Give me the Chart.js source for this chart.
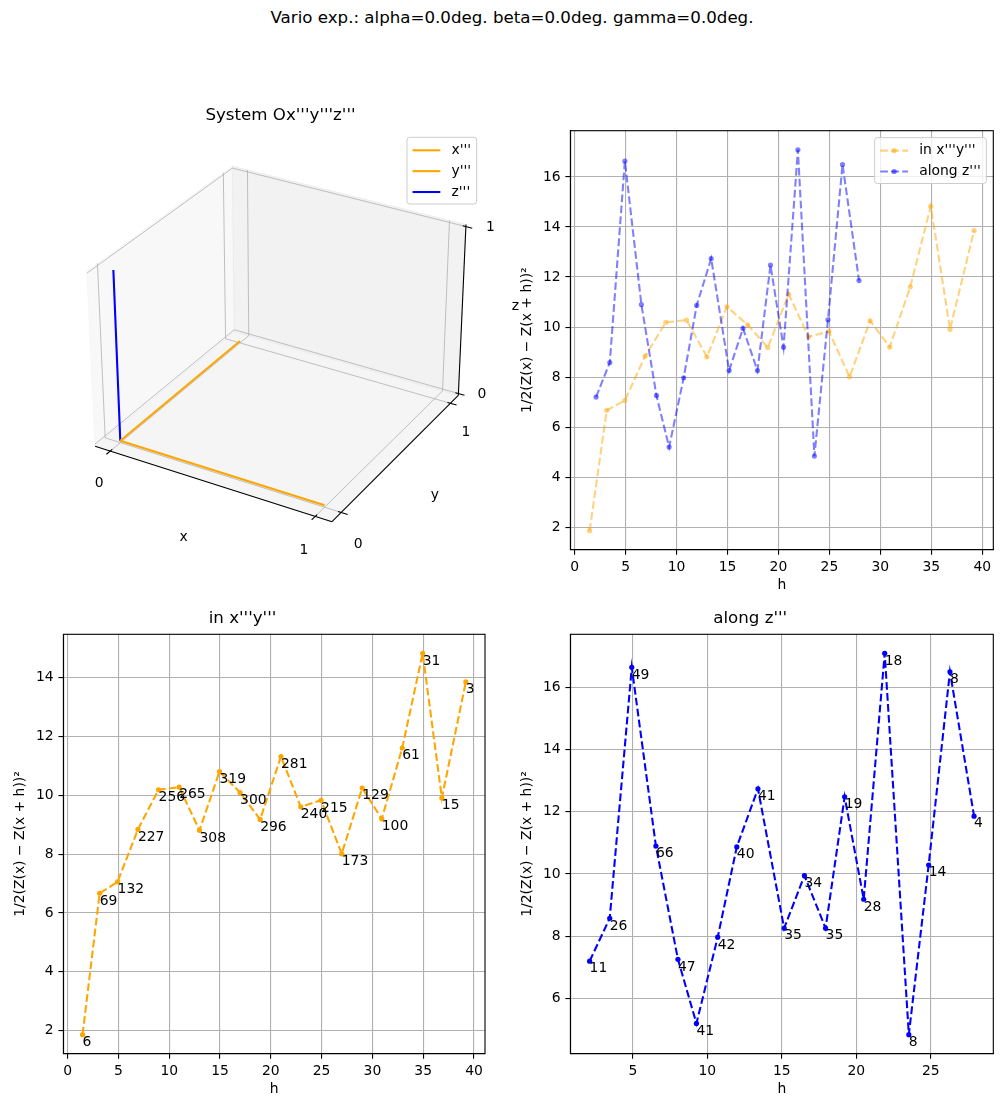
<!DOCTYPE html>
<html>
<head>
<meta charset="utf-8">
<script src="https://cdn.jsdelivr.net/npm/chart.js@4.4.0/dist/chart.umd.min.js"></script>
<style>
html, body { margin: 0; padding: 0; background: #fff; }
#fig { position: relative; width: 1002px; height: 1107px; overflow: hidden; font-family: "DejaVu Sans", sans-serif; }
#fig canvas { position: absolute; }
#sup { position: absolute; left: 0; top: 8px; width: 1024px; text-align: center; font-size: 16.67px; line-height: 20px; color: #000; }
</style>
</head>
<body>
<div id="fig">
  <div id="sup">Vario exp.: alpha=0.0deg. beta=0.0deg. gamma=0.0deg.</div>
  <canvas id="c3d" width="530" height="470" style="left:0;top:100px"></canvas>
  <canvas id="cBoth" width="495" height="483" style="left:507px;top:120px"></canvas>
  <canvas id="cXY" width="548" height="498" style="left:0;top:609px"></canvas>
  <canvas id="cZ" width="550" height="498" style="left:507px;top:609px"></canvas>
</div>
<script>
Chart.defaults.font.family = '"DejaVu Sans", sans-serif';
Chart.defaults.font.size = 13.9;
Chart.defaults.color = '#000';

// experimental variogram in the plane x'''y''': lag h, semivariance, number of pairs
const hXY = [1.47, 3.15, 4.92, 6.92, 8.95, 10.98, 12.98, 14.95, 16.98, 18.95, 21.0, 22.95, 24.95, 26.98, 29.0, 30.92, 32.94, 34.95, 36.84, 39.2];
const gXY = [1.86, 6.67, 7.06, 8.84, 10.19, 10.28, 8.81, 10.81, 10.09, 9.18, 11.32, 9.61, 9.83, 8.01, 10.25, 9.20, 11.61, 14.83, 9.91, 13.86];
const nXY = [6, 69, 132, 227, 256, 265, 308, 319, 300, 296, 281, 240, 215, 173, 129, 100, 61, 31, 15, 3];

// experimental variogram along z'''
const hZ = [2.10, 3.45, 4.93, 6.55, 8.03, 9.27, 10.70, 11.98, 13.40, 15.16, 16.52, 17.94, 19.22, 20.50, 21.91, 23.53, 24.86, 26.29, 27.91];
const gZ = [7.20, 8.58, 16.64, 10.90, 7.26, 5.20, 7.97, 10.87, 12.74, 8.26, 9.95, 8.26, 12.48, 9.19, 17.09, 4.84, 10.29, 16.50, 11.86];
const nZ = [11, 26, 49, 66, 47, 41, 42, 40, 41, 35, 34, 35, 19, 28, 18, 8, 14, 8, 4];

// tick labels
const hTicks = [0, 5, 10, 15, 20, 25, 30, 35, 40];
const hTicksZ = [5, 10, 15, 20, 25];
const gTicksBoth = [2, 4, 6, 8, 10, 12, 14, 16];
const gTicksXY = [2, 4, 6, 8, 10, 12, 14];
const gTicksZ = [6, 8, 10, 12, 14, 16];
const ticks3d = [0, 1];

// rotated system Ox'''y'''z''' (alpha = beta = gamma = 0)
const axisX = [[0, 0, 0], [1, 0, 0]];
const axisY = [[0, 0, 0], [0, 1, 0]];
const axisZ = [[0, 0, 0], [0, 0, 1]];

const ORANGE = '#ffa500';
const BLUE = '#0000ff';
const yLabel = '1/2(Z(x) \u2212 Z(x + h))\u00b2';
const FS = 13.9;

// 5% margins like matplotlib autoscale
function padRange(vals) {
    const lo = Math.min(...vals), hi = Math.max(...vals), m = (hi - lo) * 0.05;
    return [lo - m, hi + m];
}
function pts(xs, ys) { return xs.map((x, i) => ({ x: x, y: ys[i] })); }

// ---- plugins ----
const framePlugin = {
    id: 'frame',
    afterDraw(chart) {
        const a = chart.chartArea, ctx = chart.ctx;
        ctx.save();
        ctx.strokeStyle = '#000';
        ctx.lineWidth = 1.1;
        ctx.strokeRect(a.left, a.top, a.right - a.left, a.bottom - a.top);
        ctx.restore();
    }
};

const countLabels = {
    id: 'countLabels',
    afterDatasetsDraw(chart, args, opts) {
        const ctx = chart.ctx;
        const meta = chart.getDatasetMeta(0);
        ctx.save();
        ctx.font = FS + 'px "DejaVu Sans"';
        ctx.fillStyle = '#000';
        ctx.textAlign = 'left';
        ctx.textBaseline = 'alphabetic';
        meta.data.forEach((p, i) => ctx.fillText(String(opts.counts[i]), p.x, p.y + 11.3));
        ctx.restore();
    }
};

// matplotlib-like legend box
const boxLegend = {
    id: 'boxLegend',
    afterDraw(chart, args, opts) {
        const ctx = chart.ctx;
        const items = chart.data.datasets;
        ctx.save();
        ctx.font = FS + 'px "DejaVu Sans"';
        const tw = Math.max(...items.map(d => ctx.measureText(d.label).width));
        const pad = 0.4 * FS, hl = 2 * FS, htp = 0.8 * FS, ls = 0.5 * FS;
        const w = 2 * pad + hl + htp + tw;
        const h = 2 * pad + items.length * FS + (items.length - 1) * ls;
        let right = opts.right, top = opts.top;
        if (right == null) {
            right = chart.chartArea.right - 0.5 * FS;
            top = chart.chartArea.top + 0.5 * FS;
        }
        const left = right - w;
        ctx.beginPath();
        ctx.roundRect(left, top, w, h, 0.2 * FS);
        ctx.fillStyle = 'rgba(255,255,255,0.8)';
        ctx.fill();
        ctx.strokeStyle = '#cccccc';
        ctx.lineWidth = 1;
        ctx.stroke();
        items.forEach((d, i) => {
            const cy = top + pad + FS / 2 + i * (FS + ls) + 0.5;
            ctx.beginPath();
            ctx.setLineDash(d.borderDash || []);
            ctx.strokeStyle = d.borderColor;
            ctx.lineWidth = d.borderWidth;
            ctx.moveTo(left + pad, cy);
            ctx.lineTo(left + pad + hl, cy);
            ctx.stroke();
            ctx.setLineDash([]);
            if (d.pointRadius > 0) {
                ctx.beginPath();
                ctx.fillStyle = d.pointBackgroundColor;
                ctx.arc(left + pad + hl / 2, cy, d.pointRadius, 0, Math.PI * 2);
                ctx.fill();
            }
            ctx.fillStyle = '#000';
            ctx.textAlign = 'left';
            ctx.textBaseline = 'middle';
            ctx.fillText(d.label, left + pad + hl + htp, cy);
        });
        ctx.restore();
    }
};

// ---- 2D charts ----
function axis(horizontal, range, tickVals, size) {
    return {
        type: 'linear',
        min: range[0],
        max: range[1],
        afterBuildTicks(scale) { scale.ticks = tickVals.map(v => ({ value: v })); },
        afterFit(scale) {
            if (horizontal) scale.height = size; else scale.width = size;
            scale.paddingTop = 0;
            scale.paddingBottom = 0;
            scale.paddingLeft = 0;
            scale.paddingRight = 0;
        },
        grid: { color: '#b0b0b0', lineWidth: 1.1, tickLength: 5, tickColor: '#000', tickWidth: 1.1 },
        border: { color: '#000', width: 1.1 },
        ticks: { color: '#000', padding: 4.8, autoSkip: false, maxRotation: 0, font: { size: FS } },
        title: {
            display: true,
            text: horizontal ? 'h' : yLabel,
            color: '#000',
            font: { size: FS },
            padding: horizontal ? { top: 0, bottom: 9.7 } : { top: 11.7, bottom: 0 }
        }
    };
}

function series(label, xs, ys, color) {
    return {
        label: label,
        data: pts(xs, ys),
        showLine: true,
        borderColor: color,
        backgroundColor: color,
        pointBackgroundColor: color,
        borderWidth: 2.08,
        borderDash: [7.7, 3.3],
        pointRadius: 2.6,
        pointBorderWidth: 0,
        tension: 0
    };
}

function lineChart(id, cfg) {
    return new Chart(document.getElementById(id), {
        type: 'scatter',
        data: { datasets: cfg.datasets },
        options: {
            responsive: false,
            animation: false,
            devicePixelRatio: 1,
            layout: { padding: cfg.padding },
            plugins: {
                legend: { display: false },
                tooltip: { enabled: false },
                title: cfg.title ? {
                    display: true, text: cfg.title, color: '#000',
                    font: { size: 16.67, weight: 'normal' },
                    padding: { top: 0, bottom: 5.3 }
                } : { display: false },
                boxLegend: cfg.legend ? {} : false,
                countLabels: cfg.counts ? { counts: cfg.counts } : false
            },
            scales: {
                x: axis(true, cfg.xRange, cfg.xTicks, 53.3),
                y: axis(false, cfg.yRange, cfg.yTicks, 63.4)
            }
        },
        plugins: [framePlugin, boxLegend, countLabels]
    });
}

const bothXY = series("in x'''y'''", hXY, gXY, 'rgba(255,165,0,0.5)');
bothXY.order = 1;
const bothZ = series("along z'''", hZ, gZ, 'rgba(0,0,255,0.5)');
bothZ.order = 0;

lineChart('cBoth', {
    datasets: [bothXY, bothZ],
    padding: { top: 10.7, right: 8.7, left: 0, bottom: 0 },
    xRange: padRange(hXY.concat(hZ)),
    yRange: padRange(gXY.concat(gZ)),
    xTicks: hTicks,
    yTicks: gTicksBoth,
    legend: true
});

lineChart('cXY', {
    title: "in x'''y'''",
    datasets: [series("in x'''y'''", hXY, gXY, ORANGE)],
    padding: { top: 0, right: 63, left: 0, bottom: 0 },
    xRange: padRange(hXY),
    yRange: padRange(gXY),
    xTicks: hTicks,
    yTicks: gTicksXY,
    counts: nXY
});

lineChart('cZ', {
    title: "along z'''",
    datasets: [series("along z'''", hZ, gZ, BLUE)],
    padding: { top: 0, right: 63.7, left: 0, bottom: 0 },
    xRange: padRange(hZ),
    yRange: padRange(gZ),
    xTicks: hTicksZ,
    yTicks: gTicksZ,
    counts: nZ
});

// ---- 3D panel: perspective projection like mplot3d (elev 30, azim -60) ----
const ELEV = 30, AZIM = -60, DIST = 10;
const lim3 = { x: [-0.078, 1.078], y: [-0.078, 1.078], z: [-0.012, 1.012] };
const asp = [4, 4, 3].map(v => v * 1.8294640721620434 / Math.hypot(4, 4, 3));
const dot = (a, b) => a[0] * b[0] + a[1] * b[1] + a[2] * b[2];
const cross = (a, b) => [a[1] * b[2] - a[2] * b[1], a[2] * b[0] - a[0] * b[2], a[0] * b[1] - a[1] * b[0]];
const el = ELEV * Math.PI / 180, az = AZIM * Math.PI / 180;
const wv = [Math.cos(el) * Math.cos(az), Math.cos(el) * Math.sin(az), Math.sin(el)];
let uv = cross([0, 0, 1], wv);
const un = Math.hypot(...uv);
uv = uv.map(v => v / un);
const vv = cross(wv, uv);

function proj(x, y, z) {
    const p = [
        (x - lim3.x[0]) / (lim3.x[1] - lim3.x[0]) * asp[0] - asp[0] / 2,
        (y - lim3.y[0]) / (lim3.y[1] - lim3.y[0]) * asp[1] - asp[1] / 2,
        (z - lim3.z[0]) / (lim3.z[1] - lim3.z[0]) * asp[2] - asp[2] / 2
    ];
    const den = DIST - dot(wv, p);
    return { x: dot(uv, p) / den, y: dot(vv, p) / den };
}

const box3d = {
    id: 'box3d',
    beforeDatasetsDraw(chart) {
        const ctx = chart.ctx, sx = chart.scales.x, sy = chart.scales.y;
        const P = (x, y, z) => { const q = proj(x, y, z); return [sx.getPixelForValue(q.x), sy.getPixelForValue(q.y)]; };
        const [x0, x1] = lim3.x, [y0, y1] = lim3.y, [z0, z1] = lim3.z;
        ctx.save();
        const poly = (ps, fill) => {
            ctx.beginPath();
            ps.forEach((p, i) => i ? ctx.lineTo(p[0], p[1]) : ctx.moveTo(p[0], p[1]));
            ctx.closePath();
            ctx.fillStyle = fill;
            ctx.fill();
            ctx.strokeStyle = fill;
            ctx.lineWidth = 1;
            ctx.stroke();
        };
        const seg = (a, b, color, lw) => {
            ctx.beginPath();
            ctx.moveTo(a[0], a[1]);
            ctx.lineTo(b[0], b[1]);
            ctx.strokeStyle = color;
            ctx.lineWidth = lw;
            ctx.stroke();
        };
        const text = (s, p, size) => {
            ctx.font = size + 'px "DejaVu Sans"';
            ctx.fillStyle = '#000';
            ctx.textAlign = 'center';
            ctx.textBaseline = 'middle';
            ctx.fillText(s, p[0], p[1]);
        };

        // panes
        poly([P(x0, y0, z0), P(x0, y1, z0), P(x0, y1, z1), P(x0, y0, z1)], 'rgba(242,242,242,0.5)');
        poly([P(x0, y1, z0), P(x1, y1, z0), P(x1, y1, z1), P(x0, y1, z1)], 'rgba(230,230,230,0.5)');
        poly([P(x0, y0, z0), P(x1, y0, z0), P(x1, y1, z0), P(x0, y1, z0)], 'rgba(236,236,236,0.5)');

        // grid lines on panes
        const g = '#b0b0b0';
        ticks3d.forEach(t => {
            seg(P(t, y0, z0), P(t, y1, z0), g, 0.8);
            seg(P(t, y1, z0), P(t, y1, z1), g, 0.8);
            seg(P(x0, t, z0), P(x1, t, z0), g, 0.8);
            seg(P(x0, t, z0), P(x0, t, z1), g, 0.8);
            seg(P(x0, y0, t), P(x0, y1, t), g, 0.8);
            seg(P(x0, y1, t), P(x1, y1, t), g, 0.8);
        });

        // axis lines
        seg(P(x0, y0, z0), P(x1, y0, z0), '#000', 1.1);
        seg(P(x1, y0, z0), P(x1, y1, z0), '#000', 1.1);
        seg(P(x1, y1, z0), P(x1, y1, z1), '#000', 1.1);

        // ticks and tick labels
        ticks3d.forEach(t => {
            seg(P(t, y0 + 0.015, z0), P(t, y0 - 0.03, z0), '#000', 1.1);
            seg(P(x1 - 0.015, t, z0), P(x1 + 0.03, t, z0), '#000', 1.1);
            seg(P(x1 - 0.015, y1, t), P(x1 + 0.03, y1, t), '#000', 1.1);
            text(String(t), P(t, y0 - 0.092, z0 - 0.135), FS);
            text(String(t), P(x1 + 0.081, t, z0 - 0.155), FS);
            text(String(t), P(x1 + 0.094, y1 + 0.043, t), FS);
        });
        text('x', P(0.5, y0 - 0.2175, z0 - 0.1745), FS);
        text('y', P(x1 + 0.181, 0.5, z0 - 0.172), FS);
        text('z', P(x1 + 0.178, y1 + 0.164, 0.5), FS);

        // title
        text("System Ox'''y'''z'''", [280.5, 16], 16.67);
        ctx.restore();
    }
};

function line3d(label, ends, color) {
    return {
        label: label,
        data: ends.map(e => proj(e[0], e[1], e[2])),
        showLine: true,
        borderColor: color,
        borderWidth: 2.08,
        pointRadius: 0,
        tension: 0
    };
}

// map projected coordinates onto the canvas
const PX0 = 279.9, PXS = 2376, PY0 = 335.7 - 100, PYS = 2330;

new Chart(document.getElementById('c3d'), {
    type: 'scatter',
    data: {
        datasets: [
            line3d("x'''", axisX, ORANGE),
            line3d("y'''", axisY, ORANGE),
            line3d("z'''", axisZ, BLUE)
        ]
    },
    options: {
        responsive: false,
        animation: false,
        devicePixelRatio: 1,
        layout: { padding: 0 },
        plugins: {
            legend: { display: false },
            tooltip: { enabled: false },
            boxLegend: { right: 476.7, top: 37.3 }
        },
        scales: {
            x: { display: false, min: (0 - PX0) / PXS, max: (530 - PX0) / PXS },
            y: { display: false, min: (PY0 - 470) / PYS, max: PY0 / PYS }
        }
    },
    plugins: [box3d, boxLegend]
});
</script>
</body>
</html>
